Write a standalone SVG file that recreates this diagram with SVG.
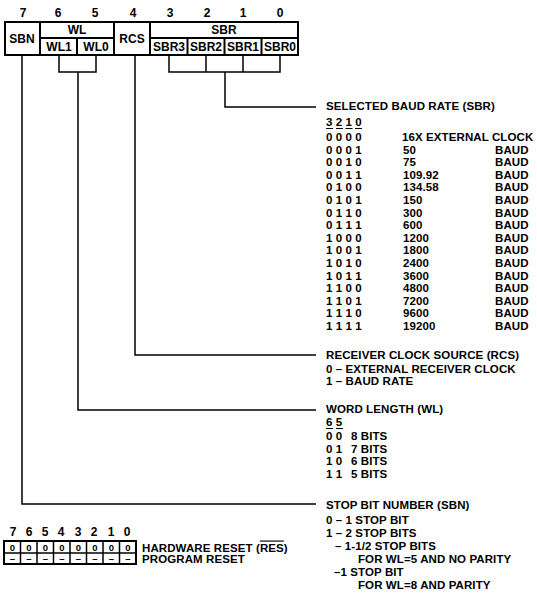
<svg xmlns="http://www.w3.org/2000/svg" width="537" height="595" viewBox="0 0 537 595">
<style>
text{font-family:"Liberation Sans",Arial,Helvetica,sans-serif;font-weight:bold;fill:#000}
.r{font-size:12px;text-anchor:middle}
.t{font-size:11.5px;letter-spacing:0.1px}
.s{font-size:9.5px;text-anchor:middle}
.box{fill:#fff;stroke:#000;stroke-width:2}
.div{stroke:#000;stroke-width:2}
.c{fill:none;stroke:#000;stroke-width:1.5}
.u{stroke:#000;stroke-width:1}
.thin{stroke:#000;stroke-width:1.5}
</style>
<rect width="537" height="595" fill="#fff"/>

<g id="register">
  <text class="r" x="23" y="17">7</text>
  <text class="r" x="58" y="17">6</text>
  <text class="r" x="95" y="17">5</text>
  <text class="r" x="133" y="17">4</text>
  <text class="r" x="170" y="17">3</text>
  <text class="r" x="207" y="17">2</text>
  <text class="r" x="243" y="17">1</text>
  <text class="r" x="280" y="17">0</text>
  <rect class="box" x="5" y="22" width="293" height="33"/>
</g>
<g id="SBN">
  <text class="r" x="22" y="43">SBN</text>
  <line class="div" x1="40" y1="22" x2="40" y2="55"/>
</g>
<g id="WL">
  <line class="div" x1="40" y1="38" x2="114" y2="38"/>
  <text class="r" x="77" y="34">WL</text>
  <line class="div" x1="77" y1="38" x2="77" y2="55"/>
  <text class="r" x="59" y="51">WL1</text>
  <text class="r" x="96" y="51">WL0</text>
  <line class="div" x1="114" y1="22" x2="114" y2="55"/>
</g>
<g id="RCS">
  <text class="r" x="132" y="43">RCS</text>
  <line class="div" x1="150" y1="22" x2="150" y2="55"/>
</g>
<g id="SBR">
  <line class="div" x1="150" y1="38" x2="298" y2="38"/>
  <text class="r" x="224" y="34">SBR</text>
  <line class="div" x1="187.5" y1="38" x2="187.5" y2="55"/>
  <line class="div" x1="224.5" y1="38" x2="224.5" y2="55"/>
  <line class="div" x1="261.5" y1="38" x2="261.5" y2="55"/>
  <text class="r" x="169" y="51">SBR3</text>
  <text class="r" x="206" y="51">SBR2</text>
  <text class="r" x="243" y="51">SBR1</text>
  <text class="r" x="280" y="51">SBR0</text>
</g>

<g id="connectors">
  <polyline class="c" points="22,55 22,504 316,504"/>
  <polyline class="c" points="59,55 59,72 96,72 96,55"/>
  <polyline class="c" points="78,72 78,410 316,410"/>
  <polyline class="c" points="135,55 135,355 316,355"/>
  <polyline class="c" points="169,55 169,72 280,72 280,55"/>
  <line class="c" x1="206" y1="55" x2="206" y2="72"/>
  <line class="c" x1="243" y1="55" x2="243" y2="72"/>
  <polyline class="c" points="225,72 225,107 316,107"/>
</g>

<g id="sbr-legend">
  <text class="t" x="326" y="110">SELECTED BAUD RATE (SBR)</text>
  <text class="t" x="326" y="126">3 2 1 0</text>
  <line class="u" x1="326" y1="128.5" x2="333" y2="128.5"/>
  <line class="u" x1="336" y1="128.5" x2="343" y2="128.5"/>
  <line class="u" x1="345.5" y1="128.5" x2="352.5" y2="128.5"/>
  <line class="u" x1="355" y1="128.5" x2="362" y2="128.5"/>
  <text class="t" x="326" y="141">0 0 0 0</text><text class="t" x="402" y="141">16X EXTERNAL CLOCK</text>
  <text class="t" x="326" y="153.6">0 0 0 1</text><text class="t" x="403" y="153.6">50</text><text class="t" x="495" y="153.6">BAUD</text>
  <text class="t" x="326" y="166.2">0 0 1 0</text><text class="t" x="403" y="166.2">75</text><text class="t" x="495" y="166.2">BAUD</text>
  <text class="t" x="326" y="178.8">0 0 1 1</text><text class="t" x="403" y="178.8">109.92</text><text class="t" x="495" y="178.8">BAUD</text>
  <text class="t" x="326" y="191.4">0 1 0 0</text><text class="t" x="403" y="191.4">134.58</text><text class="t" x="495" y="191.4">BAUD</text>
  <text class="t" x="326" y="204">0 1 0 1</text><text class="t" x="403" y="204">150</text><text class="t" x="495" y="204">BAUD</text>
  <text class="t" x="326" y="216.6">0 1 1 0</text><text class="t" x="403" y="216.6">300</text><text class="t" x="495" y="216.6">BAUD</text>
  <text class="t" x="326" y="229.2">0 1 1 1</text><text class="t" x="403" y="229.2">600</text><text class="t" x="495" y="229.2">BAUD</text>
  <text class="t" x="326" y="241.8">1 0 0 0</text><text class="t" x="403" y="241.8">1200</text><text class="t" x="495" y="241.8">BAUD</text>
  <text class="t" x="326" y="254.4">1 0 0 1</text><text class="t" x="403" y="254.4">1800</text><text class="t" x="495" y="254.4">BAUD</text>
  <text class="t" x="326" y="267">1 0 1 0</text><text class="t" x="403" y="267">2400</text><text class="t" x="495" y="267">BAUD</text>
  <text class="t" x="326" y="279.6">1 0 1 1</text><text class="t" x="403" y="279.6">3600</text><text class="t" x="495" y="279.6">BAUD</text>
  <text class="t" x="326" y="292.2">1 1 0 0</text><text class="t" x="403" y="292.2">4800</text><text class="t" x="495" y="292.2">BAUD</text>
  <text class="t" x="326" y="304.8">1 1 0 1</text><text class="t" x="403" y="304.8">7200</text><text class="t" x="495" y="304.8">BAUD</text>
  <text class="t" x="326" y="317.4">1 1 1 0</text><text class="t" x="403" y="317.4">9600</text><text class="t" x="495" y="317.4">BAUD</text>
  <text class="t" x="326" y="330">1 1 1 1</text><text class="t" x="403" y="330">19200</text><text class="t" x="495" y="330">BAUD</text>
</g>

<g id="rcs-legend">
  <text class="t" x="326" y="359">RECEIVER CLOCK SOURCE (RCS)</text>
  <text class="t" x="326" y="373">0 – EXTERNAL RECEIVER CLOCK</text>
  <text class="t" x="326" y="385">1 – BAUD RATE</text>
</g>

<g id="wl-legend">
  <text class="t" x="326" y="413">WORD LENGTH (WL)</text>
  <text class="t" x="326" y="426">6 5</text>
  <line class="u" x1="326" y1="428.5" x2="333" y2="428.5"/>
  <line class="u" x1="336" y1="428.5" x2="343" y2="428.5"/>
  <text class="t" x="326" y="440">0 0</text><text class="t" x="351" y="440">8 BITS</text>
  <text class="t" x="326" y="453">0 1</text><text class="t" x="351" y="453">7 BITS</text>
  <text class="t" x="326" y="465">1 0</text><text class="t" x="351" y="465">6 BITS</text>
  <text class="t" x="326" y="478">1 1</text><text class="t" x="351" y="478">5 BITS</text>
</g>

<g id="sbn-legend">
  <text class="t" x="326" y="509">STOP BIT NUMBER (SBN)</text>
  <text class="t" x="326" y="524">0 – 1 STOP BIT</text>
  <text class="t" x="326" y="537">1 – 2 STOP BITS</text>
  <text class="t" x="335" y="550">– 1-1/2 STOP BITS</text>
  <text class="t" x="358" y="563">FOR WL=5 AND NO PARITY</text>
  <text class="t" x="334" y="576">–1 STOP BIT</text>
  <text class="t" x="358" y="589">FOR WL=8 AND PARITY</text>
</g>

<g id="reset-register">
  <text class="r" x="13" y="536">7</text>
  <text class="r" x="29" y="536">6</text>
  <text class="r" x="45" y="536">5</text>
  <text class="r" x="61" y="536">4</text>
  <text class="r" x="78" y="536">3</text>
  <text class="r" x="94" y="536">2</text>
  <text class="r" x="111" y="536">1</text>
  <text class="r" x="127" y="536">0</text>
  <rect class="box" x="4" y="541" width="132" height="23" stroke-width="1.5"/>
  <line class="thin" x1="4" y1="553" x2="136" y2="553"/>
  <line class="thin" x1="20.5" y1="541" x2="20.5" y2="564"/>
  <line class="thin" x1="37" y1="541" x2="37" y2="564"/>
  <line class="thin" x1="53.5" y1="541" x2="53.5" y2="564"/>
  <line class="thin" x1="70" y1="541" x2="70" y2="564"/>
  <line class="thin" x1="86.5" y1="541" x2="86.5" y2="564"/>
  <line class="thin" x1="103" y1="541" x2="103" y2="564"/>
  <line class="thin" x1="119.5" y1="541" x2="119.5" y2="564"/>
  <text class="s" x="12.5" y="551">0</text>
  <text class="s" x="29" y="551">0</text>
  <text class="s" x="45.5" y="551">0</text>
  <text class="s" x="62" y="551">0</text>
  <text class="s" x="78.5" y="551">0</text>
  <text class="s" x="95" y="551">0</text>
  <text class="s" x="111.5" y="551">0</text>
  <text class="s" x="128" y="551">0</text>
  <text class="s" x="12.5" y="562">–</text>
  <text class="s" x="29" y="562">–</text>
  <text class="s" x="45.5" y="562">–</text>
  <text class="s" x="62" y="562">–</text>
  <text class="s" x="78.5" y="562">–</text>
  <text class="s" x="95" y="562">–</text>
  <text class="s" x="111.5" y="562">–</text>
  <text class="s" x="128" y="562">–</text>
  <text class="t" x="142" y="551.5">HARDWARE RESET (<tspan text-decoration="overline">RES</tspan>)</text>
  <text class="t" x="142" y="563">PROGRAM RESET</text>
</g>
</svg>
